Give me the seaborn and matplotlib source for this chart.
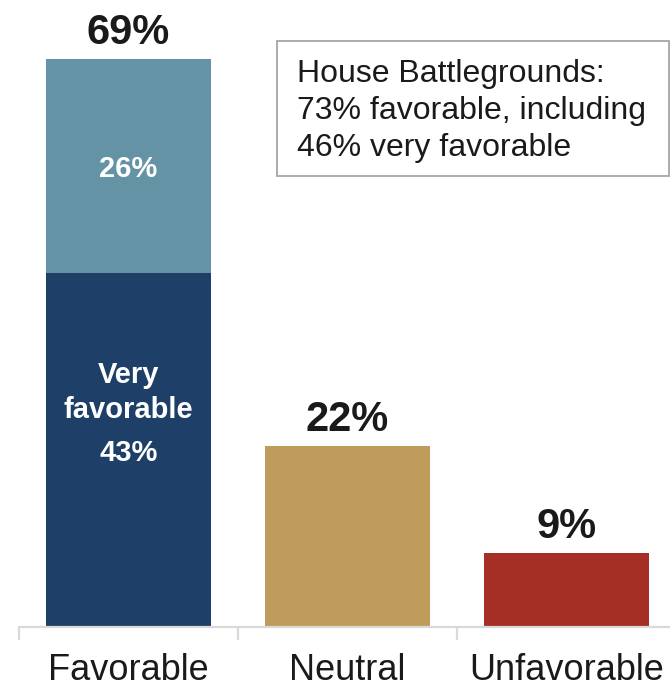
import matplotlib
matplotlib.use("Agg")
import matplotlib.pyplot as plt
from matplotlib.patches import Rectangle
import pandas as pd
import seaborn as sns

categories = ["Favorable", "Neutral", "Unfavorable"]
totals = [69, 22, 9]
very_favorable = 43
somewhat_favorable = 26
top_labels = ["69%", "22%", "9%"]
note_lines = ["House Battlegrounds:", "73% favorable, including", "46% very favorable"]

colors = {"Favorable": "#6593A6", "Neutral": "#BF9C5C", "Unfavorable": "#A52F25"}
very_color = "#1E3F67"

sns.set_theme(style="white")
plt.rcParams["font.family"] = ["Liberation Sans", "DejaVu Sans"]

fig = plt.figure(figsize=(6.70, 6.89), dpi=100)
ax = fig.add_axes([19 / 670, 62 / 689, 651 / 670, 627 / 689])

df = pd.DataFrame({"category": categories, "value": totals})
sns.barplot(data=df, x="category", y="value", hue="category", order=categories,
            palette=colors, width=0.75, legend=False, ax=ax, saturation=1,
            linewidth=0, edgecolor="none")

df_very = pd.DataFrame({"category": ["Favorable"], "value": [very_favorable]})
sns.barplot(data=df_very, x="category", y="value", order=categories,
            color=very_color, width=0.75, ax=ax, saturation=1,
            linewidth=0, edgecolor="none")

ax.set_xlim(-0.5, 2.473)
ax.set_ylim(0, 76.2)
ax.set_xlabel("")
ax.set_ylabel("")
ax.set_yticks([])

for side in ["top", "left", "right"]:
    ax.spines[side].set_visible(False)
ax.spines["bottom"].set_color("#d9d9d9")
ax.spines["bottom"].set_linewidth(1.6)

ax.set_xticks(range(len(categories)))
ax.set_xticklabels(categories, fontsize=26, color="#1a1a1a")
ax.set_xticks([-0.5, 0.5, 1.5], minor=True)
ax.tick_params(axis="x", which="both", bottom=True)
ax.tick_params(axis="x", which="major", length=0, pad=19)
ax.tick_params(axis="x", which="minor", length=9, width=1.6, color="#d9d9d9")

# Totals above each bar
for i, (v, lab) in enumerate(zip(totals, top_labels)):
    ax.text(i, v + 0.7, lab, ha="center", va="bottom", fontsize=30,
            fontweight="bold", color="#1a1a1a")

# Labels inside the stacked favorable bar
ax.text(0, very_favorable + somewhat_favorable / 2 - 0.3, f"{somewhat_favorable}%",
        ha="center", va="center", fontsize=21, fontweight="bold", color="white")
ax.text(0, 28.5, "Very\nfavorable", ha="center", va="center", fontsize=21,
        fontweight="bold", color="white", linespacing=1.35)
ax.text(0, 21.1, f"{very_favorable}%", ha="center", va="center", fontsize=21,
        fontweight="bold", color="white")

# Note box
fig.patches.append(Rectangle((277 / 670, 1 - 176 / 689), 392 / 670, 135 / 689,
                             transform=fig.transFigure, fill=False,
                             edgecolor="#a6a6a6", linewidth=1.3))
fig.text(297 / 670, 1 - 111 / 689, "\n".join(note_lines), ha="left", va="center",
         fontsize=23, color="#1a1a1a", linespacing=1.29)

fig.savefig("out.png", dpi=100)
